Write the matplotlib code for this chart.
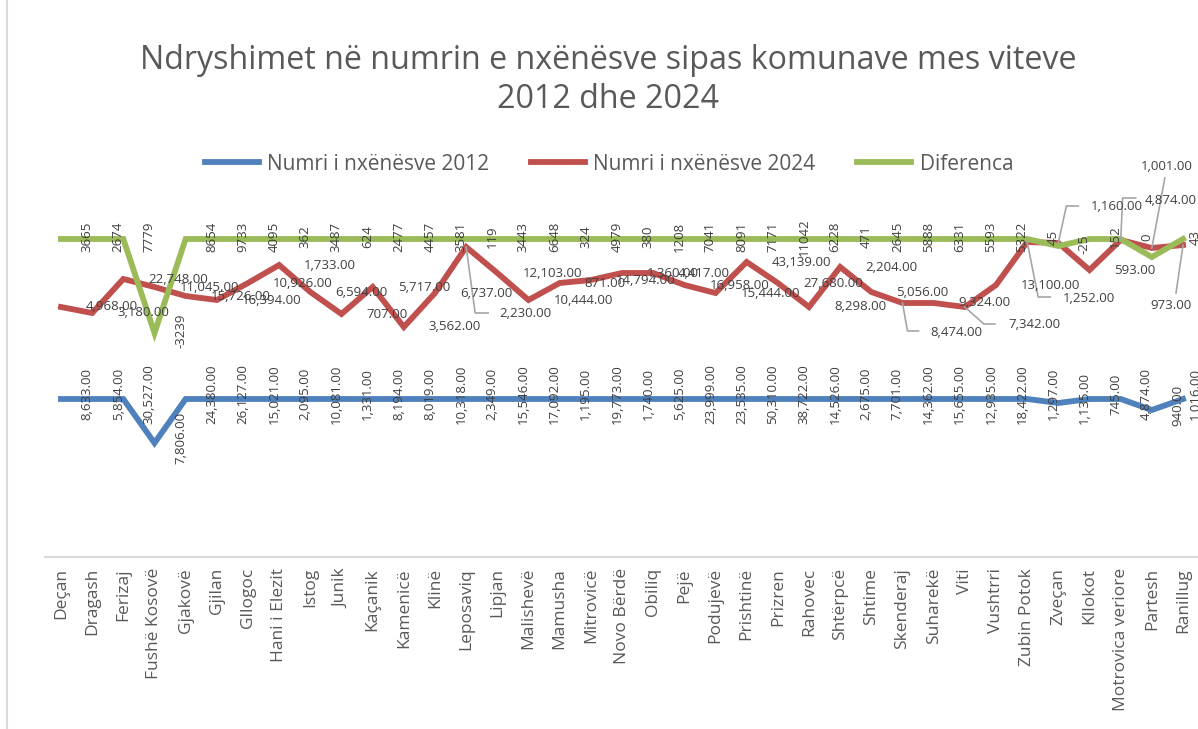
import matplotlib
matplotlib.use('Agg')
import matplotlib.pyplot as plt
from matplotlib.lines import Line2D

plt.rcParams['font.family'] = ['Open Sans', 'DejaVu Sans']

komunat = ['Deçan', 'Dragash', 'Ferizaj', 'Fushë Kosovë', 'Gjakovë', 'Gjilan', 'Gllogoc',
           'Hani i Elezit', 'Istog', 'Junik', 'Kaçanik', 'Kamenicë', 'Klinë', 'Leposaviq',
           'Lipjan', 'Malishevë', 'Mamusha', 'Mitrovicë', 'Novo Bërdë', 'Obiliq', 'Pejë',
           'Podujevë', 'Prishtinë', 'Prizren', 'Rahovec', 'Shtërpcë', 'Shtime', 'Skenderaj',
           'Suharekë', 'Viti', 'Vushtrri', 'Zubin Potok', 'Zveçan', 'Kllokot',
           'Motrovica veriore', 'Partesh', 'Ranillug']

# values shown in the data labels
nx_2012 = [8633, 5854, 30527, 7806, 24380, 26127, 15021, 2095, 10081, 1331, 8194, 8019,
           10318, 2349, 15546, 17092, 1195, 19773, 1740, 5625, 23999, 23535, 50310, 38722,
           14526, 2675, 7701, 14362, 15655, 12935, 18422, 1297, 1135, 745, 4874, 940, 1016]
nx_2024 = [4968, 3180, 22748, 11045, 15726, 16394, 10926, 1733, 6594, 707, 5717, 3562,
           6737, 2230, 12103, 10444, 871, 14794, 1360, 4417, 16958, 15444, 43139, 27680,
           8298, 2204, 5056, 8474, 9324, 7342, 13100, 1252, 1160, 593, 4874, 1001, 973]
diferenca = [3665, 2674, 7779, -3239, 8654, 9733, 4095, 362, 3487, 624, 2477, 4457, 3581,
             119, 3443, 6648, 324, 4979, 380, 1208, 7041, 8091, 7171, 11042, 6228, 471,
             2645, 5888, 6331, 5593, 5322, 45, -25, 152, 0, None, 43]

# heights the lines are actually drawn at (the chart's hidden value axis)
lvl_2012 = [158, 158, 158, 114, 158, 158, 158, 158, 158, 158, 158, 158, 158, 158, 158, 158,
            158, 158, 158, 158, 158, 158, 158, 158, 158, 158, 158, 158, 158, 158, 158, 158,
            154, 158, 158, 147, 158]
lvl_2024 = [250, 244, 278, 270, 261, 257, 274, 292, 265, 243, 270, 230, 264, 310, 284, 257,
            274, 277, 284, 284, 272, 264, 295, 274, 250, 290, 265, 254, 254, 250, 272, 315,
            314, 287, 317, 309, 312]
lvl_dif = [318, 318, 318, 224, 318, 318, 318, 318, 318, 318, 318, 318, 318, 318, 318, 318,
           318, 318, 318, 318, 318, 318, 318, 318, 318, 318, 318, 318, 318, 318, 318, 318,
           311, 318, 318, 300, 318]

blue = '#4f81bd'
red = '#c0504d'
green = '#9bbb59'
txt = '#404040'
grey = '#595959'

W, H = 1198, 729
fig = plt.figure(figsize=(W / 100, H / 100), dpi=100)
ax = fig.add_axes([45.4 / W, 1 - 557 / H, 1153.2 / W, (557 - 140) / H])
x = list(range(len(komunat)))

ax.plot(x, lvl_2012, color=blue, lw=4.2, solid_joinstyle='miter', label='Numri i nxënësve 2012')
ax.plot(x, lvl_2024, color=red, lw=4.2, solid_joinstyle='miter', label='Numri i nxënësve 2024')
ax.plot(x, lvl_dif, color=green, lw=4.2, solid_joinstyle='miter', label='Diferenca')

ax.set_xlim(-0.5, len(komunat) - 0.5)
ax.set_ylim(0, 557 - 140)
ax.set_xticks(x)
ax.set_xticklabels(komunat, rotation=90, fontsize=12.5, color=grey)
ax.tick_params(axis='x', length=0, pad=8)
ax.set_yticks([])
for s in ['left', 'right', 'top']:
    ax.spines[s].set_visible(False)
ax.spines['bottom'].set_color('#d9d9d9')
ax.spines['bottom'].set_linewidth(1.5)
ax.patch.set_alpha(0)


def shifted(i, v, dx, dy):
    # point (i, v) moved by dx, dy image pixels (dy downwards)
    px, py = ax.transData.transform((i, v))
    return ax.transData.inverted().transform((px + dx, py - dy))


# 2012 and difference labels: vertical, right of the point
for i, v in enumerate(nx_2012):
    dx = 12 if i == len(komunat) - 1 else 26
    ax.annotate(f'{v:,.2f}', (i, lvl_2012[i]), xytext=(dx, 5), textcoords='offset pixels',
                rotation=90, ha='center', va='center', fontsize=9.5, color=txt)
for i, v in enumerate(diferenca):
    if v is None:
        continue
    dx = 12 if i == len(komunat) - 1 else 26
    ax.annotate(f'{v}', (i, lvl_dif[i]), xytext=(dx, 2), textcoords='offset pixels',
                rotation=90, ha='center', va='center', fontsize=9.5, color=txt)

# 2024 labels: horizontal; some were dragged away with leader lines
moved = {
    13: ((33, 66), [(9, 66), (22, 66)]),
    27: ((28, 29), [(5, 28), (16, 28)]),
    29: ((44, 17), [(19, 17), (30, 17)]),
    31: ((36, 56), [(11, 55), (23, 55)]),
    32: ((32, -36), [(8, -37), (20, -37)]),
    34: ((24, -40), [(2, -42), (15, -42)]),
    35: ((-11, -81), [(13, -70)]),
    36: ((-33, 60), [(-7, 48)]),
}
for i, v in enumerate(nx_2024):
    if i in moved:
        (dx, dy), leader = moved[i]
        pts = [(i, lvl_2024[i])] + [shifted(i, lvl_2024[i], a, b) for a, b in leader]
        ax.plot([p[0] for p in pts], [p[1] for p in pts], color='#a6a6a6', lw=1.2,
                zorder=5, clip_on=False)
    else:
        dx, dy = 25, 0
    ax.annotate(f'{v:,.2f}', (i, lvl_2024[i]), xytext=(dx, -dy), textcoords='offset pixels',
                ha='left', va='center', fontsize=9.5, color=txt, zorder=6,
                annotation_clip=False)

fig.text(608 / W, 1 - 80 / H,
         'Ndryshimet në numrin e nxënësve sipas komunave mes viteve\n2012 dhe 2024',
         ha='center', va='center', fontsize=23.2, color=grey, linespacing=1.25)

handles, labels = ax.get_legend_handles_labels()
leg = fig.legend(handles, labels, loc='center', bbox_to_anchor=(609 / W, 1 - 164 / H),
                 ncol=3, frameon=False, fontsize=15, handlelength=2.6, handletextpad=0.4,
                 columnspacing=2.0)
for t in leg.get_texts():
    t.set_color(grey)

fig.add_artist(Line2D([7 / W, 7 / W], [0, 1], color='#d9d9d9', lw=1.5))

fig.savefig('out.png', dpi=100)
